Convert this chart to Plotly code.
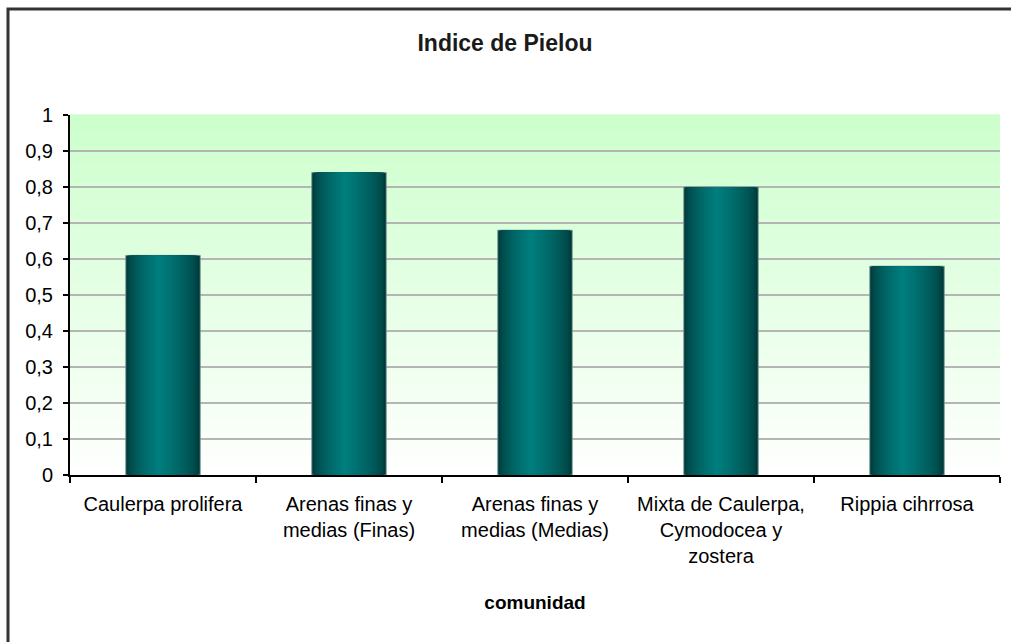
import plotly.graph_objects as go

# Pielou evenness index per community
comunidades = [
    "Caulerpa prolifera",
    "Arenas finas y<br>medias (Finas)",
    "Arenas finas y<br>medias (Medias)",
    "Mixta de Caulerpa,<br>Cymodocea y<br>zostera",
    "Rippia cihrrosa",
]
pielou = [0.61, 0.84, 0.68, 0.80, 0.58]

W, H = 1011, 642
ML, MR, MT, MB = 70, 11, 115, 167
plot_w = W - ML - MR
plot_h = H - MT - MB

FONT = "Liberation Sans, Arial, sans-serif"

fig = go.Figure()

# Cylinder-like shading: stacked bars, narrowing towards a bright core
bar_w = 0.4
n_layers = 18
edge = (0, 56, 56)
core = (0, 128, 128)
peak = 0.44
for k in range(n_layers):
    t = k / n_layers
    left = -bar_w / 2 + t * peak * bar_w
    right = bar_w / 2 - t * (1 - peak) * bar_w
    s = t ** 0.6
    g = int(edge[1] + (core[1] - edge[1]) * s)
    col = f"rgb(0,{g},{g})"
    fig.add_trace(go.Bar(
        x=comunidades,
        y=pielou,
        width=right - left,
        offset=left,
        marker=dict(
            color=col,
            line=dict(color="rgba(110,150,150,0.9)" if k == 0 else col, width=1 if k == 0 else 0),
        ),
        hoverinfo="skip" if k else "x+y",
        showlegend=False,
    ))

# Vertical green-to-white wash behind the plot area
shapes = []
n_bands = 90
for i in range(n_bands):
    y0 = i / n_bands
    y1 = (i + 1) / n_bands
    f = (y0 + y1) / 2
    rb = int(255 - (255 - 204) * f)
    shapes.append(dict(
        type="rect", xref="paper", yref="paper", layer="below",
        x0=0, x1=1, y0=y0, y1=y1 + 0.002,
        fillcolor=f"rgb({rb},255,{rb})", line=dict(width=0),
    ))

# Chart frame: top and left edges (open path, no closing side)
fx0 = (8 - ML) / plot_w
fy1 = 1 + (MT - 9) / plot_h
fx1 = (W - ML + 6) / plot_w
fy0 = -(MB + 6) / plot_h
shapes.append(dict(
    type="path", xref="paper", yref="paper", layer="above",
    path=f"M {fx1} {fy1} L {fx0} {fy1} L {fx0} {fy0}",
    line=dict(color="#333333", width=3),
    fillcolor="rgba(0,0,0,0)",
))

fig.update_layout(
    width=W, height=H,
    margin=dict(l=ML, r=MR, t=MT, b=MB, pad=0),
    barmode="overlay",
    paper_bgcolor="white",
    plot_bgcolor="rgba(0,0,0,0)",
    separators=", ",
    font=dict(family=FONT, size=20, color="#000000"),
    shapes=shapes,
    title=dict(
        text="<b>Indice de Pielou</b>",
        font=dict(family=FONT, size=23, color="#1a1a1a"),
        x=505 / W, xref="container", xanchor="center",
        y=1 - 43 / H, yref="container", yanchor="middle",
    ),
    xaxis=dict(
        type="category",
        tickson="boundaries",
        ticks="outside", ticklen=6, tickwidth=2, tickcolor="#000000",
        showline=True, linecolor="#000000", linewidth=2,
        showgrid=False,
        tickfont=dict(family=FONT, size=20, color="#000000"),
        ticklabelstandoff=10,
        title=dict(text="<b>comunidad</b>", font=dict(family=FONT, size=19, color="#000000"), standoff=30),
        range=[-0.5, 4.5],
    ),
    yaxis=dict(
        range=[0, 1],
        dtick=0.1,
        tick0=0,
        ticks="outside", ticklen=5, tickwidth=2, tickcolor="#000000",
        showline=True, linecolor="#000000", linewidth=2,
        showgrid=True, gridcolor="#b5b5b5", gridwidth=2,
        zeroline=False,
        tickfont=dict(family=FONT, size=20, color="#000000"),
        ticklabelstandoff=6,
    ),
)

fig.write_html("out.html", config={"displayModeBar": False})
